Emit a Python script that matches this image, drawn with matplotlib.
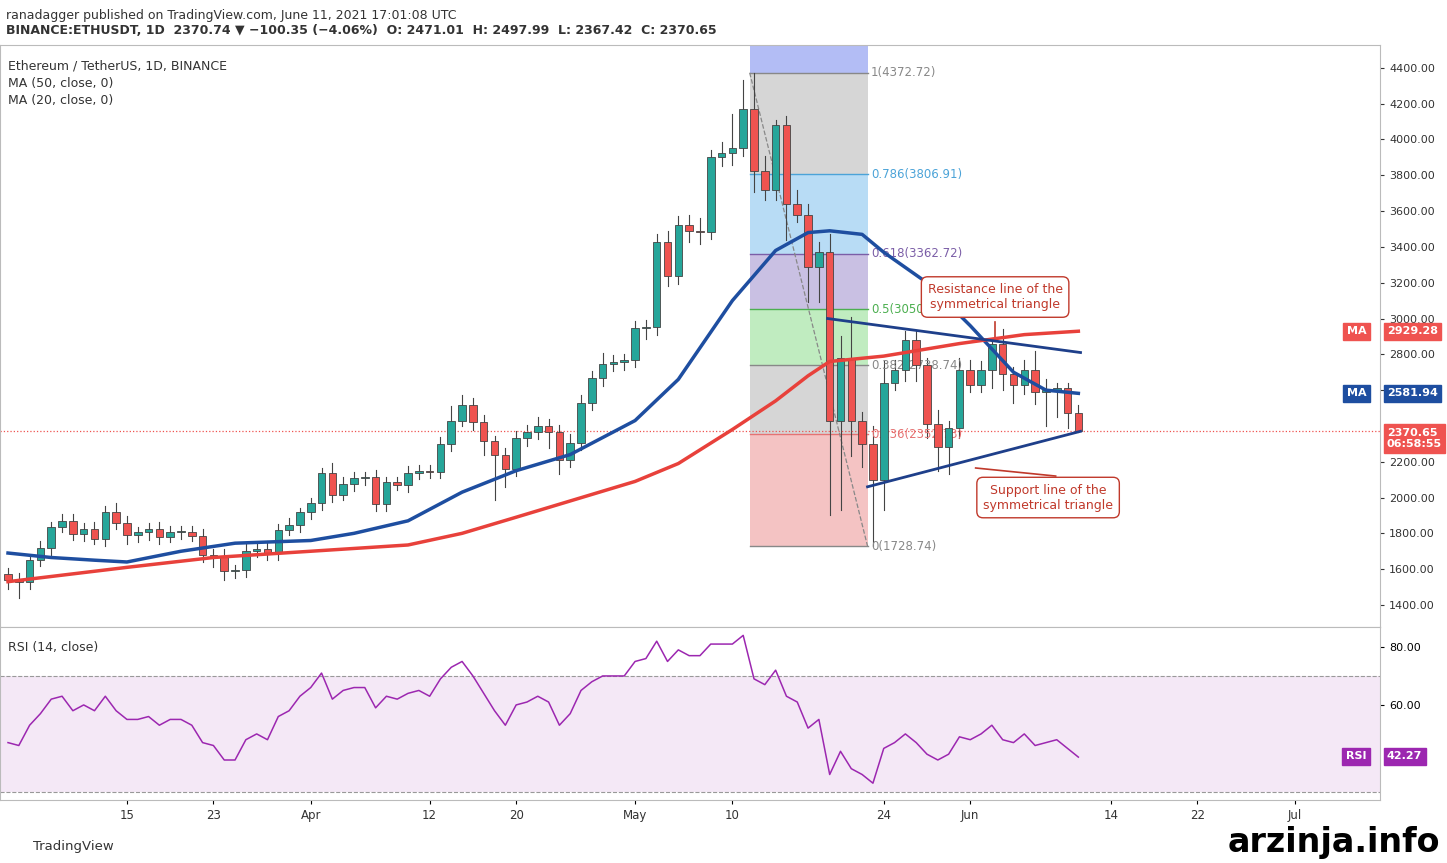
import matplotlib
matplotlib.use("Agg")
import matplotlib.pyplot as plt
import numpy as np
from matplotlib.patches import Rectangle

closes = [1540,1530,1650,1720,1835,1870,1795,1825,1770,1920,1855,1790,1805,1825,1780,1810,1810,1785,1680,1670,1590,1595,1700,1715,1690,1820,1845,1920,
          1970,2135,2015,2075,2110,2115,1965,2085,2070,2135,2150,2140,2300,2430,2515,2420,2315,2235,2160,2330,2365,2400,2365,2210,2305,2530,2665,2745,2755,2770,
          2945,2950,3430,3240,3520,3490,3485,3900,3925,3950,4170,3825,3720,4080,3640,3580,3290,3370,2430,2780,2430,2300,2100,2640,2710,2880,2740,2410,2280,2390,2710,
          2630,2710,2860,2690,2630,2710,2590,2600,2610,2471,2371]
first_open = 1575
upper_wick = [30,40,30,40,30,40,40,30,40,30,50,40,30,30,40,30,30,30,40,30,40,30,40,30,40,30,40,20,
              30,30,60,40,30,30,40,30,30,40,30,30,40,80,60,40,40,30,40,40,40,50,40,40,50,40,40,60,40,30,
              40,40,40,60,50,60,70,40,60,190,160,200,80,30,50,80,60,60,100,120,230,50,100,120,60,50,50,40,80,40,70,
              60,50,30,80,40,60,110,60,30,30,45]
lower_wick = [50,90,40,30,40,30,30,40,30,40,30,50,40,40,40,30,40,30,40,60,50,40,40,30,40,40,30,40,
              40,40,40,30,40,40,40,40,30,40,30,30,30,40,30,40,80,250,100,40,40,40,90,80,40,40,40,40,40,40,
              40,60,40,60,50,60,70,40,50,70,40,120,60,60,200,40,200,200,530,500,200,130,370,170,40,60,90,80,130,150,60,
              40,40,100,90,100,50,70,190,150,80,3]
ma20_idx = [0,4,8,11,16,21,28,32,37,42,47,52,58,62,67,71,74,76,79,81,85,89,93,96,99]
ma20_val = [1690,1665,1650,1640,1700,1745,1760,1800,1870,2030,2150,2240,2430,2660,3100,3380,3480,3490,3470,3370,3200,2960,2700,2600,2582]
ma50_idx = [0,11,19,28,37,42,47,58,62,67,71,74,76,81,88,94,99]
ma50_val = [1530,1610,1665,1700,1735,1800,1890,2090,2190,2380,2540,2680,2760,2790,2860,2910,2929]
rsi = [47,46,53,57,62,63,58,60,58,63,58,55,55,56,53,55,55,53,47,46,41,41,48,50,48,56,58,63,66,71,
       62,65,66,66,59,63,62,64,65,63,69,73,75,70,64,58,53,60,61,63,61,53,57,65,68,70,70,70,75,76,
       82,75,79,77,77,81,81,81,84,69,67,72,63,61,52,55,36,44,38,36,33,45,47,50,47,43,41,43,49,48,
       50,53,48,47,50,46,47,48,45,42]
xtick_pos = [11,19,28,39,47,58,67,81,89,102,110,119]
xtick_lab = ["15","23","Apr","12","20","May","10","24","Jun","14","22","Jul"]
fib_levels = [1.0,0.786,0.618,0.5,0.382,0.236,0.0]
fib_prices = [4372.72,3806.91,3362.72,3050.73,2738.74,2352.73,1728.74]

GREEN, RED = "#26a69a", "#ef5350"
fig = plt.figure(figsize=(14.47,8.63), dpi=100)
ax = fig.add_axes([0,0.2735,0.9537,0.6744])
ar = fig.add_axes([0,0.073,0.9537,0.2005], sharex=ax)
n = len(closes)
opens = [first_open]+closes[:-1]
x = np.arange(n)

fx0, fx1 = 68.6, 79.5
fcols = ["#d6d6d6","#b8dcf5","#c9c0e3","#c0ecc0","#d6d6d6","#f4c3c3"]
ax.add_patch(Rectangle((fx0,4372.72),fx1-fx0,160,color="#9aa7f2",alpha=0.75,lw=0))
for i in range(6):
    ax.add_patch(Rectangle((fx0,fib_prices[i+1]),fx1-fx0,fib_prices[i]-fib_prices[i+1],color=fcols[i],lw=0))
lcols = ["#888888","#4ba3d8","#7b5ea7","#4caf50","#888888","#e57373","#888888"]
for lv,p,c in zip(fib_levels,fib_prices,lcols):
    ax.plot([fx0,fx1],[p,p],color=c,lw=1)
    ax.text(fx1+0.3,p,f"{lv:g}({p:.2f})",color=c,fontsize=8.5,va="center")
ax.plot([fx0,fx1],[4372.72,1728.74],ls="--",color="#888888",lw=0.9)

for i in range(n):
    o,c = opens[i],closes[i]
    col = GREEN if c>=o else RED
    hi = max(o,c)+upper_wick[i]; lo = min(o,c)-lower_wick[i]
    ax.plot([x[i],x[i]],[lo,hi],color="#444444",lw=0.8,zorder=2)
    ax.add_patch(Rectangle((x[i]-0.35,min(o,c)),0.7,max(abs(c-o),4),facecolor=col,edgecolor="#444444",lw=0.6,zorder=3))
ax.plot(ma20_idx,ma20_val,color="#1e4ea0",lw=2.5,zorder=4)
ax.plot(ma50_idx,ma50_val,color="#e8413b",lw=2.5,zorder=4)
ax.axhline(closes[-1],color=RED,ls=":",lw=0.9)
ax.plot([75.8,99.2],[3000,2810],color="#1e3f8a",lw=2,zorder=5)
ax.plot([79.5,99.2],[2060,2370],color="#1e3f8a",lw=2,zorder=5)
ax.plot([89.5,96.9],[2165,2120],color="#c0392b",lw=1.2)
ax.plot([91.3,91.3],[2980,2880],color="#c0392b",lw=1.2)
ax.text(91.3,3120,"Resistance line of the\nsymmetrical triangle",fontsize=9,color="#c0392b",ha="center",va="center",
        bbox=dict(boxstyle="round,pad=0.5",fc="white",ec="#c0392b"),zorder=6)
ax.text(96.2,2000,"Support line of the\nsymmetrical triangle",fontsize=9,color="#c0392b",ha="center",va="center",
        bbox=dict(boxstyle="round,pad=0.5",fc="white",ec="#c0392b"),zorder=6)
ax.set_ylim(1277,4528); ax.set_xlim(-0.74,126.9)
ax.yaxis.tick_right()
yt = [v for v in range(1400,4401,200) if v != 2400]
ax.set_yticks(yt); ax.set_yticklabels([f"{v}.00" for v in yt],fontsize=8)
ax.tick_params(axis="x",labelbottom=False,length=0); ax.tick_params(axis="y",length=3,colors="#333333")
def tag(a,y,txt,col):
    a.text(1.005,y,txt,transform=a.get_yaxis_transform(),fontsize=8,color="white",fontweight="bold",va="center",
           bbox=dict(boxstyle="square,pad=0.3",fc=col,ec=col),zorder=10)
def ltag(a,y,txt,col):
    a.text(0.99,y,txt,transform=a.get_yaxis_transform(),fontsize=8,color="white",fontweight="bold",va="center",ha="right",
           bbox=dict(boxstyle="square,pad=0.3",fc=col,ec=col),zorder=10)
tag(ax,2929.28,"2929.28",RED); tag(ax,2581.94,"2581.94","#1e4ea0"); tag(ax,2330,"2370.65\n06:58:55",RED)
ltag(ax,2929.28,"MA",RED); ltag(ax,2581.94,"MA","#1e4ea0")
ax.text(0.006,0.975,"Ethereum / TetherUS, 1D, BINANCE",transform=ax.transAxes,fontsize=9,color="#333333",va="top")
ax.text(0.006,0.945,"MA (50, close, 0)",transform=ax.transAxes,fontsize=9,color="#333333",va="top")
ax.text(0.006,0.915,"MA (20, close, 0)",transform=ax.transAxes,fontsize=9,color="#333333",va="top")

ar.axhspan(30,70,color="#9c27b0",alpha=0.1,lw=0)
ar.axhline(70,color="#999999",ls="--",lw=0.8); ar.axhline(30,color="#999999",ls="--",lw=0.8)
ar.plot(x,rsi,color="#9c27b0",lw=1.1)
ar.set_ylim(27.2,86.9); ar.yaxis.tick_right()
ar.set_yticks([60,80]); ar.set_yticklabels(["60.00","80.00"],fontsize=8)
ar.set_xticks(xtick_pos); ar.set_xticklabels(xtick_lab,fontsize=8.5,color="#333333")
ar.tick_params(length=3)
ar.text(0.006,0.92,"RSI (14, close)",transform=ar.transAxes,fontsize=9,color="#333333",va="top")
tag(ar,42.27,"42.27","#9c27b0"); ltag(ar,42.27,"RSI","#9c27b0")
for a in (ax,ar):
    for s in a.spines.values(): s.set_color("#bbbbbb")

fig.text(0.004,0.99,"ranadagger published on TradingView.com, June 11, 2021 17:01:08 UTC",fontsize=9,va="top",color="#333333")
fig.text(0.004,0.972,"BINANCE:ETHUSDT, 1D  2370.74 ▼ −100.35 (−4.06%)  O: 2471.01  H: 2497.99  L: 2367.42  C: 2370.65",fontsize=9,va="top",color="#333333",fontweight="bold")
fig.text(0.023,0.015,"TradingView",fontsize=9.5,color="#333333")
fig.text(0.995,0.005,"arzinja.info",fontsize=24,fontweight="bold",ha="right",va="bottom",color="black")
fig.savefig("out.png",dpi=100)
